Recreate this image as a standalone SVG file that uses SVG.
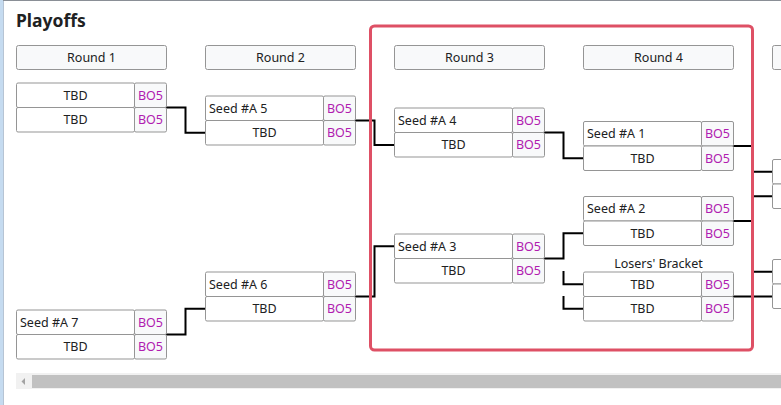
<svg xmlns="http://www.w3.org/2000/svg" width="781" height="405" viewBox="0 0 781 405">
<style>
  text { font-family: "Noto Sans", "Liberation Sans", sans-serif; font-size: 12.5px; fill: #202122; }
  .title { font-size: 17.5px; font-weight: bold; }
  .hdr { fill: #f8f9fa; stroke: #959595; stroke-width: 1; }
  .name { fill: #ffffff; stroke: #959595; stroke-width: 1; }
  .bo { fill: #f8f9fa; stroke: #959595; stroke-width: 1; }
  .bot { fill: #b01cb0; text-anchor: middle; }
  .c { text-anchor: middle; }
  .conn path { fill: none; stroke: #000; stroke-width: 2; }
</style>
<defs>
  <g id="row">
    <rect class="name" x="0" y="0" width="118" height="24.5" rx="1.5"/>
    <rect class="bo" x="118" y="0" width="32" height="24.5" rx="1.5"/>
  </g>
</defs>
<rect x="0" y="0" width="781" height="405" fill="#ffffff"/>
<rect x="0" y="0" width="3.5" height="405" fill="#c5dbf0"/>
<line x1="3.5" y1="0" x2="3.5" y2="405" stroke="#b6c4d4" stroke-width="1"/>
<line x1="3" y1="0.5" x2="781" y2="0.5" stroke="#8a8f96" stroke-width="1"/>
<text class="title" x="16" y="27">Playoffs</text>

<g id="headers">
  <g id="h1"><rect class="hdr" x="16.5" y="45.5" width="150" height="24" rx="2"/><text class="c" x="91.5" y="62">Round 1</text></g>
  <g id="h2"><rect class="hdr" x="205.5" y="45.5" width="150" height="24" rx="2"/><text class="c" x="280.5" y="62">Round 2</text></g>
  <g id="h3"><rect class="hdr" x="394.5" y="45.5" width="150" height="24" rx="2"/><text class="c" x="469.5" y="62">Round 3</text></g>
  <g id="h4"><rect class="hdr" x="583.5" y="45.5" width="150" height="24" rx="2"/><text class="c" x="658.5" y="62">Round 4</text></g>
  <g id="h5"><rect class="hdr" x="772.5" y="45.5" width="150" height="24" rx="2"/></g>
</g>

<g class="conn" id="connectors">
  <path d="M166,107.5 H185.5 V132.75 H205"/>
  <path d="M166,334.5 H185.5 V308.75 H205"/>
  <path d="M355,120.5 H374.5 V145 H394"/>
  <path d="M355,296.5 H374.5 V246.25 H394"/>
  <path d="M544,132.5 H563.5 V158.25 H583"/>
  <path d="M544,258.5 H563.5 V233.25 H583"/>
  <path d="M563.5,271 V284.25 H583"/>
  <path d="M563.5,296 V308.75 H583"/>
  <path d="M733,146 H752.5 V171.75 H772"/>
  <path d="M733,221 H752.5 V196.25 H772"/>
  <path d="M733,296.5 H772 M752.5,296.5 V271.75 H772"/>
</g>

<g id="r1m1">
  <use href="#row" x="16.5" y="83"/><use href="#row" x="16.5" y="107.5"/>
  <text class="c" x="75.5" y="99.5">TBD</text><text class="bot" x="150.5" y="99.5">BO5</text>
  <text class="c" x="75.5" y="124">TBD</text><text class="bot" x="150.5" y="124">BO5</text>
</g>
<g id="r1m2">
  <use href="#row" x="16.5" y="310"/><use href="#row" x="16.5" y="334.5"/>
  <text x="20" y="326.5">Seed #A 7</text><text class="bot" x="150.5" y="326.5">BO5</text>
  <text class="c" x="75.5" y="351">TBD</text><text class="bot" x="150.5" y="351">BO5</text>
</g>
<g id="r2m1">
  <use href="#row" x="205.5" y="96"/><use href="#row" x="205.5" y="120.5"/>
  <text x="209" y="112.5">Seed #A 5</text><text class="bot" x="339.5" y="112.5">BO5</text>
  <text class="c" x="264.5" y="137">TBD</text><text class="bot" x="339.5" y="137">BO5</text>
</g>
<g id="r2m2">
  <use href="#row" x="205.5" y="272"/><use href="#row" x="205.5" y="296.5"/>
  <text x="209" y="288.5">Seed #A 6</text><text class="bot" x="339.5" y="288.5">BO5</text>
  <text class="c" x="264.5" y="313">TBD</text><text class="bot" x="339.5" y="313">BO5</text>
</g>
<g id="r3m1">
  <use href="#row" x="394.5" y="108"/><use href="#row" x="394.5" y="132.5"/>
  <text x="398" y="124.5">Seed #A 4</text><text class="bot" x="528.5" y="124.5">BO5</text>
  <text class="c" x="453.5" y="149">TBD</text><text class="bot" x="528.5" y="149">BO5</text>
</g>
<g id="r3m2">
  <use href="#row" x="394.5" y="234"/><use href="#row" x="394.5" y="258.5"/>
  <text x="398" y="250.5">Seed #A 3</text><text class="bot" x="528.5" y="250.5">BO5</text>
  <text class="c" x="453.5" y="275">TBD</text><text class="bot" x="528.5" y="275">BO5</text>
</g>
<g id="r4m1">
  <use href="#row" x="583.5" y="121.5"/><use href="#row" x="583.5" y="146"/>
  <text x="587" y="138">Seed #A 1</text><text class="bot" x="717.5" y="138">BO5</text>
  <text class="c" x="642.5" y="162.5">TBD</text><text class="bot" x="717.5" y="162.5">BO5</text>
</g>
<g id="r4m2">
  <use href="#row" x="583.5" y="196.5"/><use href="#row" x="583.5" y="221"/>
  <text x="587" y="213">Seed #A 2</text><text class="bot" x="717.5" y="213">BO5</text>
  <text class="c" x="642.5" y="237.5">TBD</text><text class="bot" x="717.5" y="237.5">BO5</text>
</g>
<g id="r4m3">
  <text class="c" x="658.5" y="268">Losers' Bracket</text>
  <use href="#row" x="583.5" y="272"/><use href="#row" x="583.5" y="296.5"/>
  <text class="c" x="642.5" y="288.5">TBD</text><text class="bot" x="717.5" y="288.5">BO5</text>
  <text class="c" x="642.5" y="313">TBD</text><text class="bot" x="717.5" y="313">BO5</text>
</g>
<g id="r5m1">
  <use href="#row" x="772.5" y="159.5"/><use href="#row" x="772.5" y="184"/>
</g>
<g id="r5m2">
  <use href="#row" x="772.5" y="259.5"/><use href="#row" x="772.5" y="284"/>
</g>

<rect id="highlight" x="370.5" y="26" width="382" height="324" rx="4" fill="none" stroke="#de5065" stroke-width="3"/>

<g id="scrollbar">
  <rect x="16" y="373" width="765" height="16" fill="#f1f1f1"/>
  <rect x="32" y="375" width="749" height="13" fill="#c1c1c1"/>
  <path d="M21.5,381.5 L25,378 L25,385 Z" fill="#a3a3a3"/>
</g>
</svg>
